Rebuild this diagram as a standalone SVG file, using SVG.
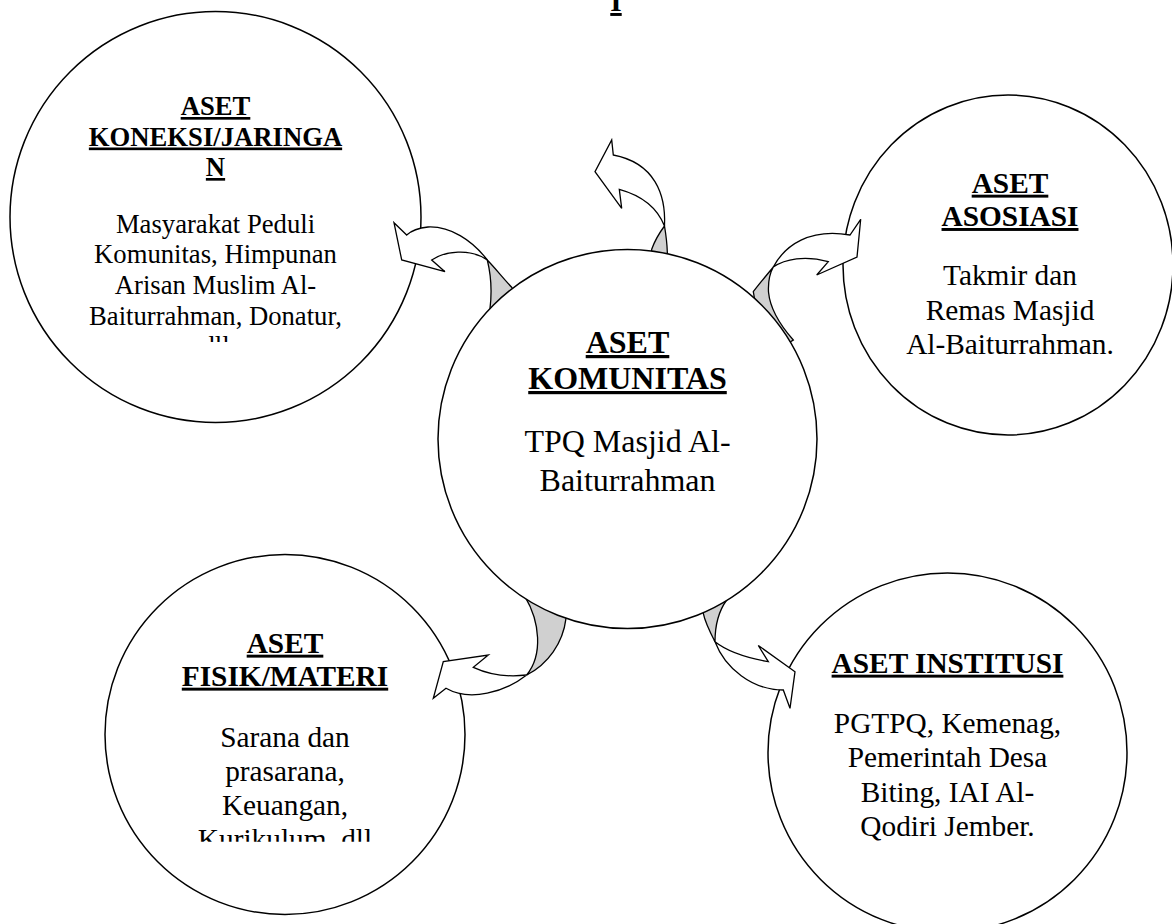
<svg xmlns="http://www.w3.org/2000/svg" width="1172" height="924" viewBox="0 0 1172 924">
<style>
.shape{fill:#fff;stroke:#000;stroke-width:1.5}
.t{font-family:"Liberation Serif","Times New Roman",serif;text-anchor:middle;fill:#000}
.h{font-weight:bold;text-decoration:underline}
.s20{font-size:26.67px}
.s22{font-size:29.33px}
.s24{font-size:32px}
.band{fill:#fff;stroke:#000;stroke-width:1.3;stroke-linejoin:miter}
.shade{fill:#d0d0d0;stroke:#000;stroke-width:1.3;stroke-linejoin:miter}
</style>
<defs>
<clipPath id="clipTL"><rect x="0" y="0" width="1172" height="342"/></clipPath>
<clipPath id="clipBL"><rect x="0" y="0" width="1172" height="841.7"/></clipPath>
</defs>
<rect width="1172" height="924" fill="#fff"/>
<text class="t h s22" x="616" y="11">I</text>

<g id="node-koneksi">
<circle class="shape" cx="215.5" cy="217" r="205.5"/>
<text class="t h s20" x="215.5" y="115">ASET</text>
<text class="t h s20" x="215.5" y="145.5">KONEKSI/JARINGA</text>
<text class="t h s20" x="215.5" y="176">N</text>
<g clip-path="url(#clipTL)">
<text class="t s20" x="215.5" y="232.7">Masyarakat Peduli</text>
<text class="t s20" x="215.5" y="263.3">Komunitas, Himpunan</text>
<text class="t s20" x="215.5" y="294">Arisan Muslim Al-</text>
<text class="t s20" x="215.5" y="324.7">Baiturrahman, Donatur,</text>
<text class="t s20" x="215.5" y="355.4">dll</text>
</g>
</g>

<g id="node-asosiasi">
<ellipse class="shape" cx="1008" cy="265" rx="165" ry="170"/>
<text class="t h s22" x="1010" y="192.7">ASET</text>
<text class="t h s22" x="1010" y="226">ASOSIASI</text>
<text class="t s22" x="1010" y="285">Takmir dan</text>
<text class="t s22" x="1010" y="319.5">Remas Masjid</text>
<text class="t s22" x="1010" y="353.5">Al-Baiturrahman.</text>
</g>

<g id="node-fisik">
<circle class="shape" cx="285" cy="734.5" r="180"/>
<text class="t h s22" x="285" y="652.7">ASET</text>
<text class="t h s22" x="285" y="685.7">FISIK/MATERI</text>
<g clip-path="url(#clipBL)">
<text class="t s22" x="285" y="746.5">Sarana dan</text>
<text class="t s22" x="285" y="780.5">prasarana,</text>
<text class="t s22" x="285" y="814.5">Keuangan,</text>
<text class="t s22" x="285" y="848.5">Kurikulum, dll</text>
</g>
</g>

<g id="node-institusi">
<circle class="shape" cx="947.5" cy="752.5" r="179.5"/>
<text class="t h s22" x="947.5" y="672.7">ASET INSTITUSI</text>
<text class="t s22" x="947.5" y="733.3">PGTPQ, Kemenag,</text>
<text class="t s22" x="947.5" y="767.3">Pemerintah Desa</text>
<text class="t s22" x="947.5" y="801.5">Biting, IAI Al-</text>
<text class="t s22" x="947.5" y="835.5">Qodiri Jember.</text>
</g>

<g id="connectors">
<g id="arrow-koneksi">
<path class="shade" d="M487.3 260 C495 268 503 278 511.7 287.3 L525 305 L500 325 L490 308.3 C492 292 491 275 487.3 260 Z"/>
<path class="band" d="M487.3 260 C472 240 450 226 428 227 C418 228 411 231 406.7 235 L394 222.7 L401.7 260 L445 271.7 L431.7 260 C445 251 470 248 487.3 260 Z"/>
</g>
<g id="arrow-top">
<path class="shade" d="M664.5 226 C666 235 667 243 667.3 251.7 L668 275 L650 275 L651.7 249.3 C655 240 660 232 664.5 226 Z"/>
<path class="band" d="M664.5 226 C666 195 655 163 613.3 155 L611.7 140 L595 171.7 L621.7 208.3 L619.3 189.3 C640 195 657 207 664.5 226 Z"/>
</g>
<g id="arrow-asosiasi">
<path class="shade" d="M773.3 267 C766 276 759 284 753.3 291.7 L760 330 L785 345 L793.3 340 C780 325 770 308 768.5 292 C768 282 770 273 773.3 267 Z"/>
<path class="band" d="M773.3 267 C785 245 810 228 850 235 L860.7 219.3 L857 257 L816.7 275 L828.3 261.7 C805 255 785 259 773.3 267 Z"/>
</g>
<g id="arrow-fisik">
<path class="shade" d="M526.7 675 C548 664 563 643 566 618.3 L560 590 L530 585 L525 596.7 C540 622 543 655 526.7 675 Z"/>
<path class="band" d="M526.7 675 C505 692 470 702 446 688.3 L433.3 698.3 L443.3 661.7 L488.3 655 L473.3 667.3 C490 675 510 677 526.7 675 Z"/>
</g>
<g id="arrow-institusi">
<path class="shade" d="M715 641.7 C710 632 705 622 703.3 613.3 L700 600 L726.7 600 C718 612 715 628 715 641.7 Z"/>
<path class="band" d="M715 641.7 C725 668 752 690 783.3 690 L790 708.3 L795 671.7 L758.3 645.5 L768.3 661.7 C748 658 728 652 715 641.7 Z"/>
</g>
</g>

<g id="node-komunitas">
<circle class="shape" cx="627.5" cy="439" r="189.5"/>
<text class="t h s24" x="627.5" y="353">ASET</text>
<text class="t h s24" x="627.5" y="389">KOMUNITAS</text>
<text class="t s24" x="627.5" y="451.7">TPQ Masjid Al-</text>
<text class="t s24" x="627.5" y="491">Baiturrahman</text>
</g>
</svg>
